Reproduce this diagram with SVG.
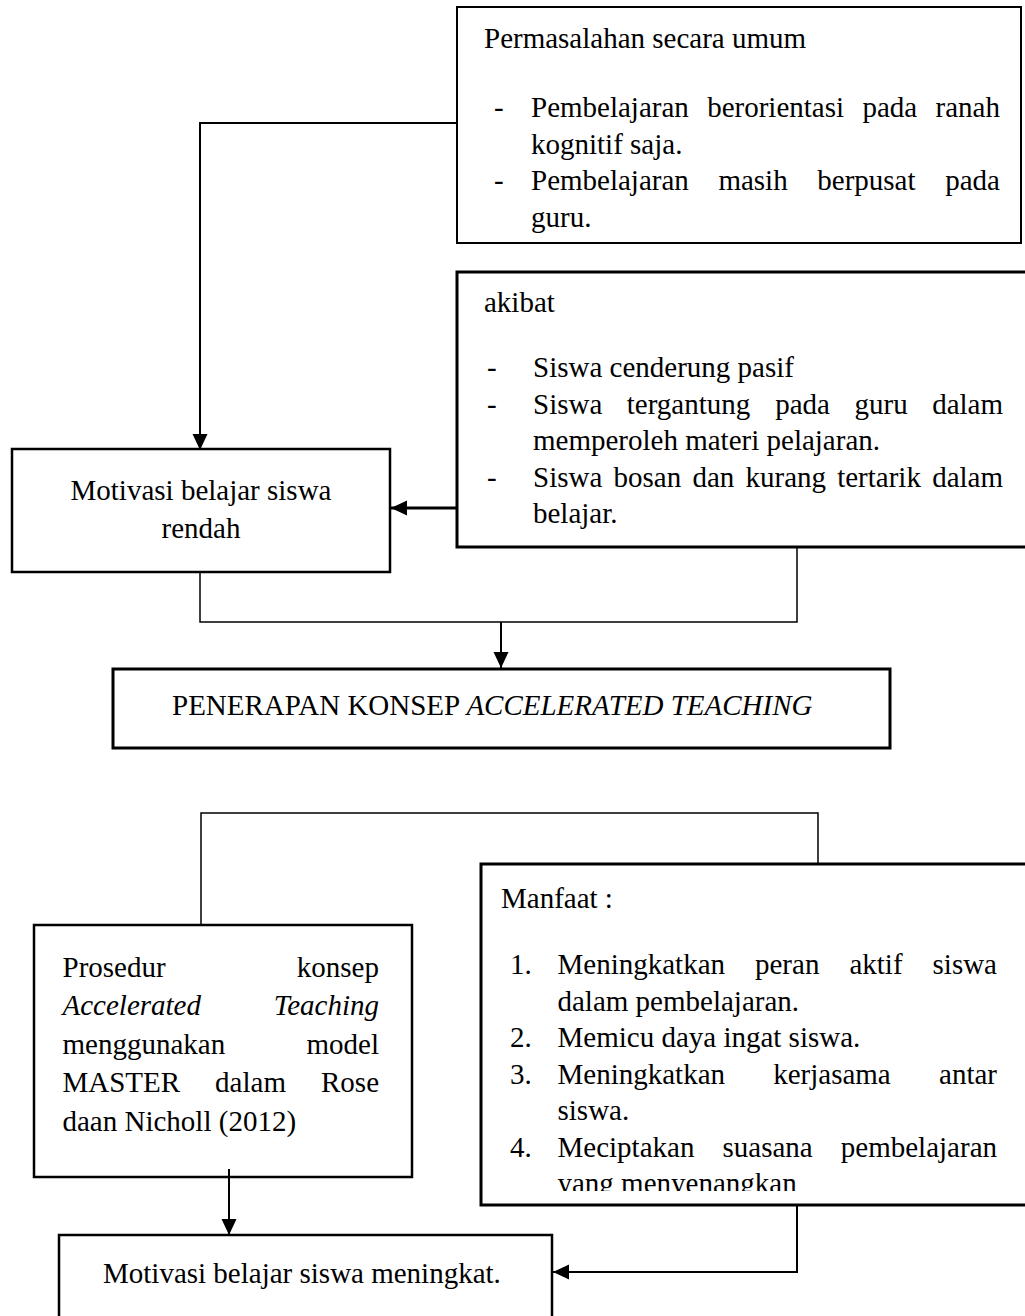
<svg xmlns="http://www.w3.org/2000/svg" width="1025" height="1316" viewBox="0 0 1025 1316">
<style>
text{font-family:"Liberation Serif","Times New Roman",serif;font-size:29px;fill:#000}
.it{font-style:italic}
.box{fill:none;stroke:#000;stroke-width:2.5}
.thick{stroke-width:3}
.ln{fill:none;stroke:#000;stroke-width:2}
.thin{fill:none;stroke:#000;stroke-width:1.5}
</style>
<defs>
<marker id="ah" markerUnits="userSpaceOnUse" markerWidth="18" markerHeight="16" refX="16" refY="7.5" orient="auto">
<path d="M0,0 L16,7.5 L0,15 Z" fill="#000"/>
</marker>
<clipPath id="clipM"><rect x="481" y="864" width="544" height="327"/></clipPath>
</defs>

<g id="connectors">
<path class="ln" d="M457 123 H200 V450" marker-end="url(#ah)"/>
<path class="ln" d="M457 508 H391" marker-end="url(#ah)" style="stroke-width:3"/>
<path class="thin" d="M200 572 V622 H797 V547"/>
<path class="ln" d="M501 622 V668" marker-end="url(#ah)"/>
<path class="thin" d="M201 925 V813 H818 V864"/>
<path class="ln" d="M229 1169 V1235" marker-end="url(#ah)"/>
<path class="ln" d="M797 1205 V1272 H553" marker-end="url(#ah)"/>
</g>

<g id="permasalahan">
<rect class="box" x="457" y="7" width="564" height="236" style="stroke-width:2"/>
<text x="484" y="48">Permasalahan secara umum</text>
<text x="494" y="117">-</text>
<text y="117"><tspan x="531">Pembelajaran</tspan><tspan x="707.2">berorientasi</tspan><tspan x="862.5">pada</tspan><tspan x="1000" text-anchor="end">ranah</tspan></text>
<text x="531" y="154">kognitif saja.</text>
<text x="494" y="190">-</text>
<text y="190"><tspan x="531">Pembelajaran</tspan><tspan x="718.4">masih</tspan><tspan x="817.3">berpusat</tspan><tspan x="1000" text-anchor="end">pada</tspan></text>
<text x="531" y="227">guru.</text>
</g>

<g id="akibat">
<path class="box thick" d="M1030 272 H457 V547 H1030"/>
<text x="484" y="312">akibat</text>
<text x="487" y="377">-</text>
<text x="533" y="377">Siswa cenderung pasif</text>
<text x="487" y="414">-</text>
<text y="414"><tspan x="533">Siswa</tspan><tspan x="626.8">tergantung</tspan><tspan x="775.2">pada</tspan><tspan x="854.5">guru</tspan><tspan x="1003" text-anchor="end">dalam</tspan></text>
<text x="533" y="450">memperoleh materi pelajaran.</text>
<text x="487" y="487">-</text>
<text y="487"><tspan x="533">Siswa</tspan><tspan x="613.5">bosan</tspan><tspan x="692.4">dan</tspan><tspan x="745.5">kurang</tspan><tspan x="837.2">tertarik</tspan><tspan x="1003" text-anchor="end">dalam</tspan></text>
<text x="533" y="523">belajar.</text>
</g>

<g id="motivasi-rendah">
<rect class="box" x="12" y="449" width="378" height="123"/>
<text x="201" y="500" text-anchor="middle">Motivasi belajar siswa</text>
<text x="201" y="538" text-anchor="middle">rendah</text>
</g>

<g id="penerapan">
<rect class="box thick" x="113" y="669" width="777" height="79"/>
<text x="172" y="715">PENERAPAN KONSEP <tspan class="it">ACCELERATED TEACHING</tspan></text>
</g>

<g id="prosedur">
<rect class="box" x="34" y="925" width="378" height="252"/>
<text y="977"><tspan x="62.5">Prosedur</tspan><tspan x="379" text-anchor="end">konsep</tspan></text>
<text y="1015" class="it"><tspan x="62.5">Accelerated</tspan><tspan x="379" text-anchor="end">Teaching</tspan></text>
<text y="1054"><tspan x="62.5">menggunakan</tspan><tspan x="379" text-anchor="end">model</tspan></text>
<text y="1092"><tspan x="62.5">MASTER</tspan><tspan x="215.1">dalam</tspan><tspan x="379" text-anchor="end">Rose</tspan></text>
<text x="62.5" y="1131">daan Nicholl (2012)</text>
</g>

<g id="manfaat">
<path class="box thick" d="M1030 864 H481 V1205 H1030"/>
<text x="501" y="908">Manfaat :</text>
<g clip-path="url(#clipM)">
<text x="510" y="974">1.</text>
<text y="974"><tspan x="557.5">Meningkatkan</tspan><tspan x="755">peran</tspan><tspan x="849.4">aktif</tspan><tspan x="997" text-anchor="end">siswa</tspan></text>
<text x="557.5" y="1010.5">dalam pembelajaran.</text>
<text x="510" y="1047">2.</text>
<text x="557.5" y="1047">Memicu daya ingat siswa.</text>
<text x="510" y="1083.5">3.</text>
<text y="1083.5"><tspan x="557.5">Meningkatkan</tspan><tspan x="773.2">kerjasama</tspan><tspan x="997" text-anchor="end">antar</tspan></text>
<text x="557.5" y="1120">siswa.</text>
<text x="510" y="1156.5">4.</text>
<text y="1156.5"><tspan x="557.5">Meciptakan</tspan><tspan x="722.5">suasana</tspan><tspan x="997" text-anchor="end">pembelajaran</tspan></text>
<text x="557.5" y="1193">yang menyenangkan</text>
</g>
</g>

<g id="motivasi-meningkat">
<path class="box" d="M59 1330 V1235 H552 V1330"/>
<text x="103" y="1283">Motivasi belajar siswa meningkat.</text>
</g>
</svg>
